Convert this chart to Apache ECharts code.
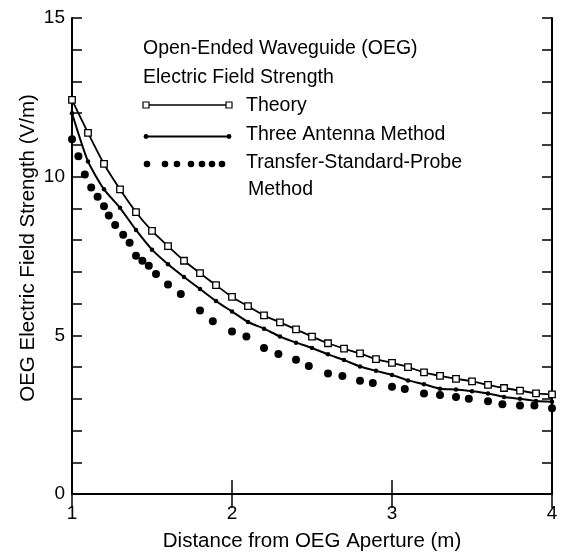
<!DOCTYPE html>
<html>
<head>
<meta charset="utf-8">
<script src="https://cdn.jsdelivr.net/npm/echarts@6/dist/echarts.min.js"></script>
<style>
  html, body { margin: 0; padding: 0; background: #fff; }
  #chart { width: 561px; height: 552px; }
</style>
</head>
<body>
<div id="chart"></div>
<script>
// ---- Data ----
const distances = [1.0, 1.1, 1.2, 1.3, 1.4, 1.5, 1.6, 1.7, 1.8, 1.9, 2.0, 2.1, 2.2, 2.3, 2.4, 2.5, 2.6, 2.7, 2.8, 2.9, 3.0, 3.1, 3.2, 3.3, 3.4, 3.5, 3.6, 3.7, 3.8, 3.9, 4.0];
const theory = [12.42, 11.38, 10.40, 9.60, 8.88, 8.29, 7.81, 7.35, 6.96, 6.58, 6.21, 5.92, 5.63, 5.41, 5.19, 4.96, 4.75, 4.58, 4.43, 4.25, 4.13, 4.00, 3.83, 3.72, 3.63, 3.55, 3.44, 3.34, 3.26, 3.17, 3.14];
const threeAntenna = [12.0, 10.48, 9.60, 9.02, 8.32, 7.70, 7.24, 6.84, 6.46, 6.08, 5.75, 5.42, 5.21, 4.96, 4.77, 4.60, 4.40, 4.22, 4.02, 3.88, 3.75, 3.58, 3.46, 3.32, 3.29, 3.24, 3.17, 3.06, 3.00, 2.93, 2.91];
const probeDistances = [1.0, 1.04, 1.08, 1.12, 1.16, 1.20, 1.23, 1.27, 1.32, 1.36, 1.40, 1.44, 1.48, 1.525, 1.60, 1.68, 1.80, 1.88, 2.0, 2.09, 2.2, 2.29, 2.4, 2.48, 2.6, 2.69, 2.8, 2.88, 3.0, 3.08, 3.2, 3.3, 3.4, 3.48, 3.6, 3.69, 3.8, 3.89, 4.0];
const probeValues = [11.18, 10.64, 10.07, 9.66, 9.37, 9.07, 8.78, 8.48, 8.17, 7.92, 7.51, 7.35, 7.19, 6.93, 6.60, 6.30, 5.78, 5.44, 5.12, 4.96, 4.60, 4.41, 4.23, 4.03, 3.80, 3.72, 3.57, 3.50, 3.38, 3.31, 3.17, 3.12, 3.06, 3.00, 2.92, 2.83, 2.79, 2.79, 2.70];
const xTitle = 'Distance from OEG Aperture (m)';
const yTitle = 'OEG Electric Field Strength (V/m)';
const legendHeader = ['Open-Ended Waveguide (OEG)', 'Electric Field Strength'];
const seriesNames = ['Theory', 'Three Antenna Method', 'Transfer-Standard-Probe', 'Method'];

// ---- Chart ----
const FONT = '"Liberation Sans", Arial, sans-serif';
const chart = echarts.init(document.getElementById('chart'), null, { renderer: 'canvas' });

const axisLine = { show: true, lineStyle: { color: '#000', width: 2 } };
const txt = (text, x, y, size) => ({
  type: 'text', x: x, y: y, silent: true,
  style: { text: text, fill: '#000', fontSize: size, fontFamily: FONT,
           align: 'left', verticalAlign: 'middle', textAlign: 'left', textVerticalAlign: 'middle' }
});

const graphics = [
  txt(legendHeader[0], 143, 49, 19.5),
  txt(legendHeader[1], 143, 78, 19.5),
  { type: 'line', silent: true, shape: { x1: 146, y1: 105, x2: 229, y2: 105 }, style: { stroke: '#000', lineWidth: 1.6 } },
  { type: 'rect', silent: true, shape: { x: 143, y: 102, width: 6, height: 6 }, style: { fill: '#fff', stroke: '#000', lineWidth: 1.2 } },
  { type: 'rect', silent: true, shape: { x: 226, y: 102, width: 6, height: 6 }, style: { fill: '#fff', stroke: '#000', lineWidth: 1.2 } },
  txt(seriesNames[0], 246, 106, 19.5),
  { type: 'line', silent: true, shape: { x1: 146, y1: 136.5, x2: 229, y2: 136.5 }, style: { stroke: '#000', lineWidth: 1.9 } },
  { type: 'circle', silent: true, shape: { cx: 146, cy: 136.5, r: 2.4 }, style: { fill: '#000' } },
  { type: 'circle', silent: true, shape: { cx: 229, cy: 136.5, r: 2.4 }, style: { fill: '#000' } },
  txt(seriesNames[1], 246, 135, 19.5),
  txt(seriesNames[2], 246, 163, 19.5),
  txt(seriesNames[3], 248, 190, 19.5)
];
[147, 165, 177, 191, 202, 212, 222].forEach(function (cx) {
  graphics.push({ type: 'circle', silent: true, shape: { cx: cx, cy: 164, r: 3.3 }, style: { fill: '#000' } });
});

const option = {
  animation: false,
  backgroundColor: '#fff',
  textStyle: { fontFamily: FONT },
  grid: { left: 72, right: 9, top: 18, bottom: 58, containLabel: false, outerBoundsMode: 'none' },
  xAxis: [
    {
      type: 'value', min: 1, max: 4, interval: 1, position: 'bottom',
      axisLine: axisLine,
      axisTick: { show: true, inside: true, length: 14, lineStyle: { color: '#000', width: 1.5 } },
      axisLabel: { color: '#000', fontSize: 19, fontFamily: FONT, margin: 10 },
      splitLine: { show: false },
      name: xTitle, nameLocation: 'middle', nameGap: 37, nameMoveOverlap: false,
      nameTextStyle: { color: '#000', fontSize: 20.5, fontFamily: FONT }
    },
    {
      type: 'value', min: 1, max: 4, interval: 1, position: 'top',
      axisLine: axisLine,
      axisTick: { show: true, inside: true, length: 14, lineStyle: { color: '#000', width: 1.5 } },
      axisLabel: { show: false },
      splitLine: { show: false }
    }
  ],
  yAxis: [
    {
      type: 'value', min: 0, max: 15, interval: 1, position: 'left',
      axisLine: axisLine,
      axisTick: { show: true, inside: true, length: 10, lineStyle: { color: '#000', width: 1.5 } },
      axisLabel: {
        color: '#000', fontSize: 19, fontFamily: FONT, margin: 7,
        formatter: function (v) { return v % 5 === 0 ? String(v) : ''; }
      },
      splitLine: { show: false },
      name: yTitle, nameLocation: 'middle', nameGap: 33, nameRotate: 90, nameMoveOverlap: false,
      nameTextStyle: { color: '#000', fontSize: 20.5, fontFamily: FONT, padding: [0, 0, 0, 16] }
    },
    {
      type: 'value', min: 0, max: 15, interval: 1, position: 'right',
      axisLine: axisLine,
      axisTick: { show: true, inside: true, length: 10, lineStyle: { color: '#000', width: 1.5 } },
      axisLabel: { show: false },
      splitLine: { show: false }
    }
  ],
  series: [
    {
      name: seriesNames[0], type: 'line', xAxisIndex: 0, yAxisIndex: 0,
      data: distances.map(function (d, i) { return [d, theory[i]]; }),
      smooth: 0.2, symbol: 'rect', symbolSize: 6.5, showAllSymbol: true, clip: false,
      lineStyle: { color: '#000', width: 1.8 },
      itemStyle: { color: '#fff', borderColor: '#000', borderWidth: 1.3 },
      z: 3
    },
    {
      name: seriesNames[1], type: 'line', xAxisIndex: 0, yAxisIndex: 0,
      data: distances.map(function (d, i) { return [d, threeAntenna[i]]; }),
      smooth: 0.2, symbol: 'circle', symbolSize: 4.5, showAllSymbol: true, clip: false,
      lineStyle: { color: '#000', width: 2 },
      itemStyle: { color: '#000' },
      z: 3
    },
    {
      name: seriesNames[2] + ' ' + seriesNames[3], type: 'scatter', xAxisIndex: 0, yAxisIndex: 0,
      data: probeDistances.map(function (d, i) { return [d, probeValues[i]]; }),
      symbol: 'circle', symbolSize: 8, clip: false,
      itemStyle: { color: '#000', opacity: 1 },
      z: 2
    }
  ],
  graphic: graphics
};
chart.setOption(option);
</script>
</body>
</html>
